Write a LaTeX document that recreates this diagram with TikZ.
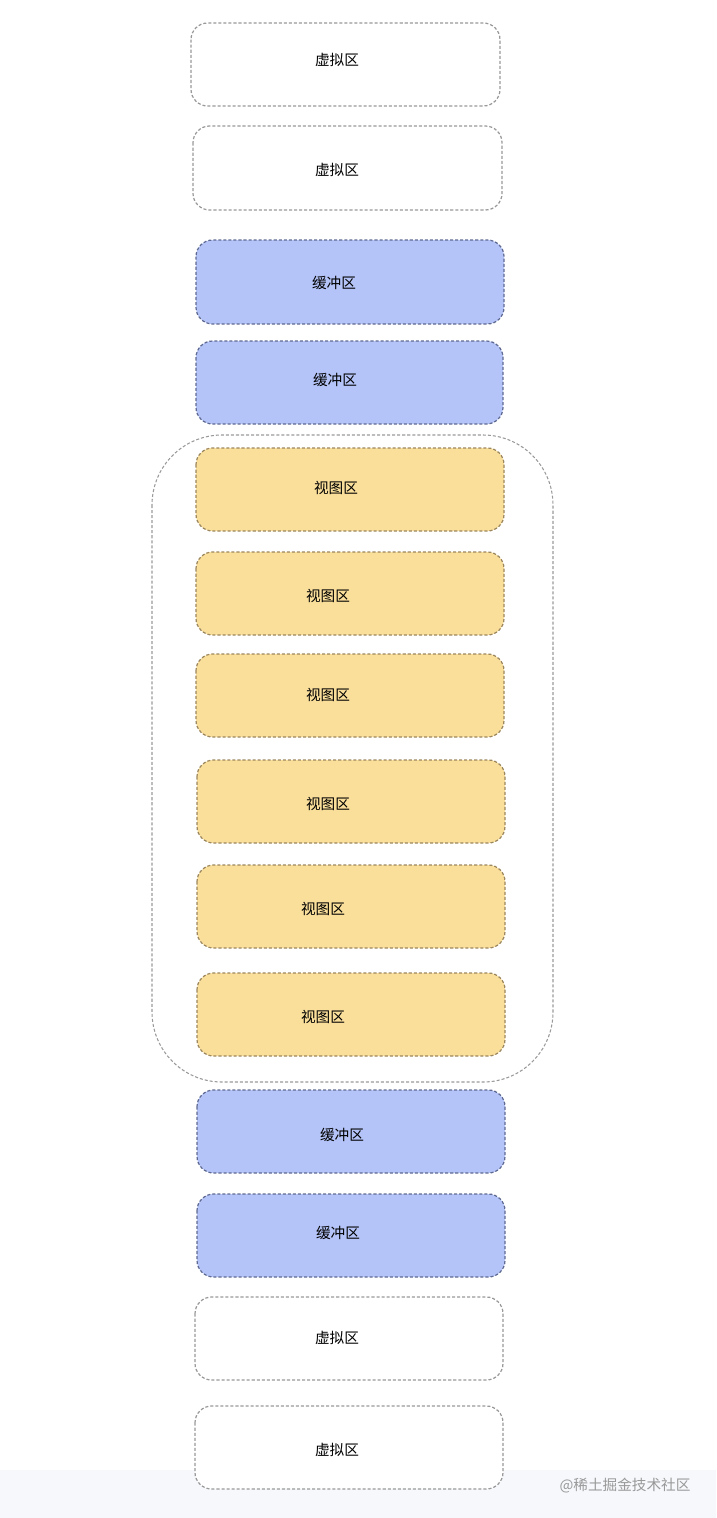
\documentclass[tikz,border=0pt]{standalone}
\usepackage{fontspec}
\setmainfont{Noto Sans CJK SC}

\definecolor{bufferfill}{HTML}{B4C4F8}
\definecolor{bufferline}{HTML}{5F6A92}
\definecolor{viewfill}{HTML}{FADF9B}
\definecolor{viewline}{HTML}{9C875E}
\definecolor{virtline}{HTML}{999999}
\definecolor{footfill}{HTML}{F6F8FB}

\begin{document}
\begin{tikzpicture}[x=0.03cm, y=-0.03cm,
    zone/.style={line width=1.05pt, dash pattern=on 2.6pt off 1.7pt, rounded corners=0.5cm},
    virtzone/.style={zone, draw=virtline, fill=white},
    bufzone/.style={zone, draw=bufferline, fill=bufferfill},
    viewzone/.style={zone, draw=viewline, fill=viewfill},
    label/.style={font=\fontsize{12.5}{14}\selectfont, text=black}]
    \useasboundingbox (0,0) rectangle (716,1518);
    \fill[footfill] (0,1470) rectangle (716,1518);
    % visible window
    \draw[virtline, line width=0.9pt, dash pattern=on 2.6pt off 1.7pt, rounded corners=2.1cm] (152,435) rectangle (553,1082);
    % top virtual zones
    \draw[virtzone] (191,23) rectangle (500,106);
    \node[label] (virt1) at (337,60) {虚拟区};
    \draw[virtzone] (193,126) rectangle (502,210);
    \node[label] (virt2) at (337,170) {虚拟区};
    % top buffer zones
    \draw[bufzone] (196,240) rectangle (504,324);
    \node[label] (buf1) at (334,283) {缓冲区};
    \draw[bufzone] (196,341) rectangle (503,424);
    \node[label] (buf2) at (335,380) {缓冲区};
    % view zones
    \draw[viewzone] (196,448) rectangle (504,531);
    \node[label] (view1) at (336,488) {视图区};
    \draw[viewzone] (196,552) rectangle (504,635);
    \node[label] (view2) at (328,596) {视图区};
    \draw[viewzone] (196,654) rectangle (504,737);
    \node[label] (view3) at (328,695) {视图区};
    \draw[viewzone] (197,760) rectangle (505,843);
    \node[label] (view4) at (328,804) {视图区};
    \draw[viewzone] (197,865) rectangle (505,948);
    \node[label] (view5) at (323,909) {视图区};
    \draw[viewzone] (197,973) rectangle (505,1056);
    \node[label] (view6) at (323,1017) {视图区};
    % bottom buffer zones
    \draw[bufzone] (197,1090) rectangle (505,1173);
    \node[label] (buf3) at (342,1135) {缓冲区};
    \draw[bufzone] (197,1194) rectangle (505,1277);
    \node[label] (buf4) at (338,1233) {缓冲区};
    % bottom virtual zones
    \draw[virtzone] (195,1297) rectangle (503,1380);
    \node[label] (virt3) at (337,1338) {虚拟区};
    \draw[virtzone] (195,1406) rectangle (503,1489);
    \node[label] (virt4) at (337,1450) {虚拟区};
    \node[font=\fontsize{12.5}{14}\selectfont, text=black!40] (mark) at (625,1486) {@稀土掘金技术社区};
\end{tikzpicture}
\end{document}
